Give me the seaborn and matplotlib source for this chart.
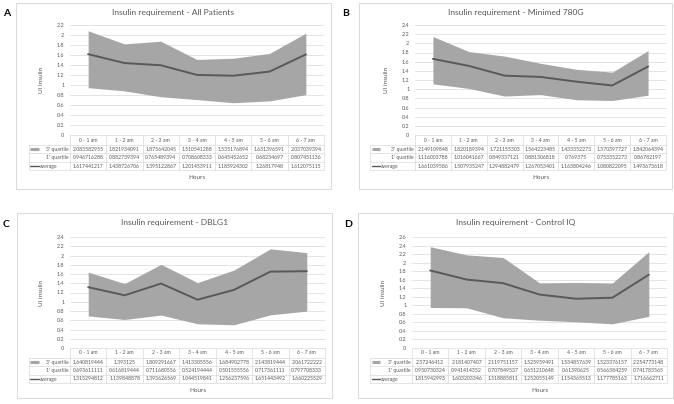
import numpy as np
import pandas as pd
import matplotlib
matplotlib.use("Agg")
import matplotlib.pyplot as plt
from matplotlib.patches import Rectangle
from matplotlib.lines import Line2D
import seaborn as sns

# hour bins (x categories)
hours = ["0 - 1 am", "1 - 2 am", "2 - 3 am", "3 - 4 am", "4 - 5 am", "5 - 6 am", "6 - 7 am"]

# A - all patients
q3_all = [2.083582955, 1.821934091, 1.875642045, 1.510541288, 1.535176894, 1.631396591, 2.037039394]
q1_all = [0.946716288, 0.882739394, 0.765489394, 0.708608333, 0.645452652, 0.68234697, 0.807451136]
avg_all = [1.617441217, 1.438726706, 1.395122867, 1.201453911, 1.185924302, 1.26817948, 1.612075115]

# B - Minimed 780G
q3_780 = [2.149109848, 1.820189394, 1.721155303, 1.564223485, 1.433352273, 1.370397727, 1.842064394]
q1_780 = [1.116003788, 1.016041667, 0.849337121, 0.881306818, 0.769375, 0.753352273, 0.86782197]
avg_780 = [1.661039586, 1.507935247, 1.294882479, 1.267053401, 1.163804246, 1.080822095, 1.493673618]

# C - DBLG1
q3_dblg = [1.640819444, 1.393125, 1.809291667, 1.413305556, 1.684902778, 2.143819444, 2.061722222]
q1_dblg = [0.693611111, 0.616819444, 0.711680556, 0.524194444, 0.501555556, 0.717361111, 0.797708333]
avg_dblg = [1.315294812, 1.139848878, 1.393626569, 1.044519841, 1.256237596, 1.651443492, 1.660225529]

# D - Control IQ
q3_ciq = [2.37246412, 2.181407407, 2.119751157, 1.525959491, 1.534857639, 1.523376157, 2.254773148]
q1_ciq = [0.950730324, 0.941414352, 0.707849537, 0.651210648, 0.61390625, 0.566384259, 0.741783565]
avg_ciq = [1.815942993, 1.603203346, 1.518885811, 1.252055149, 1.154365513, 1.177785163, 1.716662711]

titles = ["Insulin requirement - All Patients", "Insulin requirement - Minimed 780G",
          "Insulin requirement - DBLG1", "Insulin requirement - Control IQ"]
letters = ["A", "B", "C", "D"]
ymaxs = [2.2, 2.4, 2.4, 2.6]

sns.set_theme(style="white")
plt.rcParams['font.family'] = ['Lato', 'DejaVu Sans']

W, H = 674, 404
fig = plt.figure(figsize=(W / 100, H / 100), dpi=100)

FILL = "#a6a6a6"
LINE = "#595959"
GRID = "#d9d9d9"
TXT = "#595959"

def fx(px):
    return px / W

def fy(py):
    return 1 - py / H

# layout in pixels: box (l, t, r, b), plot (l, t, r, b), label col left, letter pos
layouts = [
    dict(box=(16, 3, 331, 189), plot=(70, 25, 324, 135), lab=29, let=(3, 13)),
    dict(box=(359, 3, 672, 189), plot=(415, 25, 666, 135), lab=370, let=(342, 13)),
    dict(box=(17, 213, 332, 398), plot=(70, 237, 325, 348), lab=29, let=(3, 224)),
    dict(box=(358, 213, 673, 398), plot=(412, 237, 667, 348), lab=370, let=(344, 224)),
]

data = [(q3_all, q1_all, avg_all), (q3_780, q1_780, avg_780),
        (q3_dblg, q1_dblg, avg_dblg), (q3_ciq, q1_ciq, avg_ciq)]

for i, lay in enumerate(layouts):
    q3, q1, avg = data[i]
    bl, bt, br, bb = lay["box"]
    fig.patches.append(Rectangle((fx(bl), fy(bb)), fx(br - bl), (bb - bt) / H,
                                 transform=fig.transFigure, facecolor="white",
                                 edgecolor=GRID, lw=0.7, zorder=-5))
    fig.text(fx(lay["let"][0]), fy(lay["let"][1]), letters[i], fontsize=7.5,
             fontweight="bold", ha="left", va="center", color="black")
    fig.text(fx((bl + br) / 2), fy(bt + 9), titles[i], fontsize=6.1,
             ha="center", va="center", color=TXT)

    pl, pt, pr, pb = lay["plot"]
    ax = fig.add_axes([fx(pl), fy(pb), fx(pr - pl), (pb - pt) / H])
    ax.set_zorder(2)
    ax.set_facecolor("none")
    df = pd.DataFrame({"x": np.arange(len(hours)), "q1": q1, "q3": q3, "avg": avg})
    ax.fill_between(df["x"], df["q1"], df["q3"], color=FILL, lw=0, zorder=2)
    sns.lineplot(data=df, x="x", y="avg", ax=ax, color=LINE, lw=1.4, zorder=3)
    ax.set_xlim(-0.5, 6.5)
    ax.set_ylim(0, ymaxs[i])
    yt = np.round(np.arange(0, ymaxs[i] + 0.01, 0.2), 1)
    ax.set_yticks(yt)
    ax.set_yticklabels([f"{v:g}" for v in yt], fontsize=4.0, color=TXT)
    ax.tick_params(axis="y", length=0, pad=4)
    ax.set_xticks([])
    ax.yaxis.grid(True, color=GRID, lw=0.5)
    ax.set_axisbelow(True)
    for s in ax.spines.values():
        s.set_visible(False)
    ax.set_xlabel("")
    ax.set_ylabel("UI insulin", fontsize=4.6, color=TXT, labelpad=9)

    # data table under the plot, in axes coordinates
    ph = pb - pt
    pw = pr - pl
    hh = 10 / ph
    rh = 8.4 / ph
    lw_ = (pl - lay["lab"]) / pw
    kw = dict(transform=ax.transAxes, clip_on=False, color=GRID, lw=0.5)
    y_rows = [0, -hh, -hh - rh, -hh - 2 * rh, -hh - 3 * rh]
    # horizontal lines
    ax.add_line(Line2D([0, 1], [0, 0], **kw))
    for yy in y_rows[1:]:
        ax.add_line(Line2D([-lw_, 1], [yy, yy], **kw))
    # vertical lines
    for c in range(8):
        ax.add_line(Line2D([c / 7, c / 7], [0, y_rows[-1]], **kw))
    ax.add_line(Line2D([-lw_, -lw_], [y_rows[1], y_rows[-1]], **kw))
    tk = dict(transform=ax.transAxes, fontsize=3.7, color=TXT, va="center", clip_on=False)
    for c, h in enumerate(hours):
        ax.text((c + 0.5) / 7, -hh / 2, h, ha="center", **tk)
    rows = [q3, q1, avg]
    names = ["3' quartile", "1' quartile", "average"]
    for r, (name, vals) in enumerate(zip(names, rows)):
        yc = -hh - (r + 0.5) * rh
        for c, v in enumerate(vals):
            ax.text((c + 0.5) / 7, yc, str(v), ha="center", **tk)
        kx0 = -lw_ + 1.5 / pw
        kx1 = -lw_ + 10 / pw
        if r == 0:
            ax.add_line(Line2D([kx0, kx1], [yc, yc], transform=ax.transAxes,
                               clip_on=False, color=FILL, lw=2.2, solid_capstyle="butt"))
            ax.text(-1.2 / pw, yc, name, ha="right", **tk)
        elif r == 1:
            ax.text(-1.2 / pw, yc, name, ha="right", **tk)
        else:
            ax.add_line(Line2D([kx0, kx1], [yc, yc], transform=ax.transAxes,
                               clip_on=False, color=LINE, lw=1.0))
            ax.text(kx1 + 0.5 / pw, yc, name, ha="left", **tk)
    ax.text(0.5, y_rows[-1] - 7 / ph, "Hours", ha="center", va="center",
            transform=ax.transAxes, fontsize=4.6, color=TXT, clip_on=False)

fig.savefig("out.png", dpi=100, facecolor="white")
